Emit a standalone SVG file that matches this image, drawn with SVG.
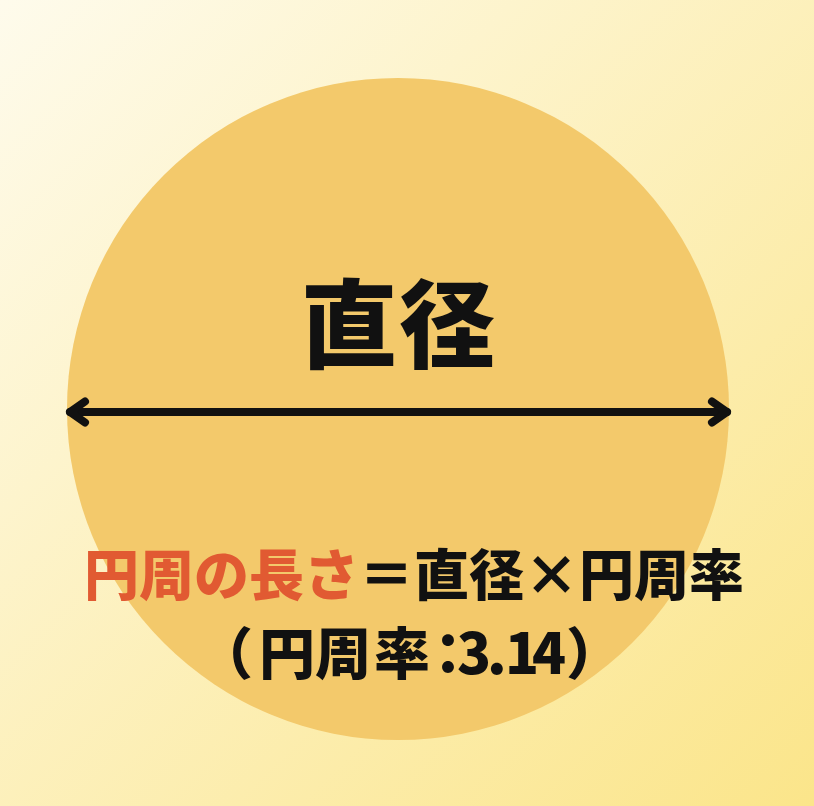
<svg xmlns="http://www.w3.org/2000/svg" width="814" height="806" viewBox="0 0 814 806">
<defs>
<linearGradient id="bg" x1="0" y1="0" x2="1" y2="1">
<stop offset="0" stop-color="#FEFBEC"/>
<stop offset="1" stop-color="#FBE58A"/>
</linearGradient>
<style>
.t{font-family:"Noto Sans CJK JP","Noto Sans CJK SC",sans-serif;font-weight:900;fill:#111}
.r{fill:#E15A32}
.ln{stroke:#111;stroke-width:8;stroke-linecap:round;stroke-linejoin:round;fill:none}
</style>
</defs>
<rect width="814" height="806" fill="url(#bg)"/>
<g id="circle">
<circle cx="398" cy="409" r="331" fill="#F3C96B"/>
</g>
<g id="connectors">
<path class="ln" d="M70 412 H727"/>
<path class="ln" d="M85 401.5 L70 412 L85 422.5"/>
<path class="ln" d="M712 401.5 L727 412 L712 422.5"/>
</g>
<g id="label-diameter">
<text class="t" x="399" y="360" font-size="96" text-anchor="middle" letter-spacing="2">直径</text>
</g>
<g id="formula">
<text class="t" x="414" y="595" font-size="55" text-anchor="middle"><tspan class="r">円周の長さ</tspan>＝直径×円周率</text>
<text class="t" x="197 259 315 374 420 457 487 505 532 566" y="674" font-size="56">（円周率：3.14）</text>
</g>
</svg>
